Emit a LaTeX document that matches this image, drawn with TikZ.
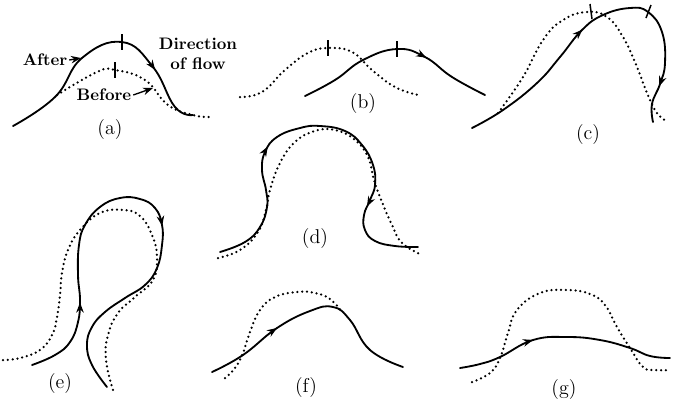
\documentclass[tikz,border=0pt]{standalone}
\usepackage{amsmath}
\usetikzlibrary{arrows.meta,decorations.markings}

\begin{document}
\begin{tikzpicture}[x=0.6pt,y=-0.6pt,
  after/.style={line width=1.1pt,line cap=round},
  before/.style={line width=1.5pt,line cap=round,dash pattern=on 0pt off 2.9pt},
  peakmark/.style={line width=0.9pt},
  flowarrow/.style={postaction={decorate,decoration={markings,
     mark=at position #1 with {\arrow{Stealth[length=6pt,width=4.5pt]}}}}},
  lab/.style={font=\bfseries,inner sep=1pt},
  panel/.style={font=\large},
  pointer/.style={line width=0.8pt,-{Stealth[length=6pt,width=4.5pt]}}]
\useasboundingbox (0,0) rectangle (676,400);
% (a)
\draw[after,flowarrow=0.75] plot[smooth,tension=0.75] coordinates
  {(13,126) (55,97) (82,58) (122,42) (153,67) (175,107) (193,115)};
\draw[before] plot[smooth,tension=0.75] coordinates
  {(57,95) (97,72) (115,70) (145,80) (168,105) (193,115) (210,117)};
\draw[peakmark] (122,34) -- (122,50);
\draw[peakmark] (115,62) -- (115,78);
\coordinate (aftertip)  at (81,58);
\coordinate (beforetip) at (153,88);
\node[lab] (afterlab)  at (45,60) {After};
\node[lab] (beforelab) at (104,95) {Before};
\node[lab,align=center] (flowlab) at (198,54) {Direction\\of flow};
\draw[pointer] (afterlab.east) -- (aftertip);
\draw[pointer] (beforelab.east) -- (beforetip);
\node[panel] (la) at (110,130) {(a)};
% (b)
\draw[after,flowarrow=0.66] plot[smooth,tension=0.75] coordinates
  {(305,96) (335,80) (363,60) (397,49) (425,57) (452,77) (485,95)};
\draw[before] plot[smooth,tension=0.75] coordinates
  {(240,97) (262,92) (285,70) (308,53) (328,48) (352,52) (372,70) (395,87) (418,95)};
\draw[peakmark] (328,40) -- (328,56);
\draw[peakmark] (397,41) -- (397,57);
\node[panel] (lb) at (363,104) {(b)};
% (c)
\draw[after,flowarrow=0.44,flowarrow=0.89] plot[smooth,tension=0.75] coordinates
  {(472,128) (503,110) (537,83) (560,57) (582,30) (603,15) (630,8) (648,12) (662,32) (665,63) (660,84) (652,104) (653,122)};
\draw[before] plot[smooth,tension=0.75] coordinates
  {(498,113) (523,77) (543,40) (563,20) (587,12) (607,17) (623,37) (637,67) (647,93) (657,113) (668,122)};
\draw[peakmark] (590,4) -- (592,19);
\draw[peakmark] (651,5) -- (646,18);
\node[panel] (lc) at (588,135) {(c)};
% (d)
\draw[after,flowarrow=0.34,flowarrow=0.785] plot[smooth,tension=0.75] coordinates
  {(220,252) (245,242) (260,227) (267,207) (266,190) (262,170) (265,152) (277,137) (300,128) (320,126) (345,131) (362,145) (373,165) (375,185) (370,200) (364,215) (365,230) (375,241) (395,246) (418,247)};
\draw[before] plot[smooth,tension=0.75] coordinates
  {(218,258) (240,250) (258,232) (266,210) (270,190) (280,163) (295,142) (315,131) (335,130) (355,140) (368,157) (374,180) (382,202) (392,225) (402,243) (422,255)};
\node[panel] (ld) at (315,239) {(d)};
% (e)
\draw[after,flowarrow=0.185,flowarrow=0.575] plot[smooth,tension=0.75] coordinates
  {(32,365) (55,355) (70,342) (78,322) (80,300) (78,275) (79,245) (85,225) (100,207) (120,198) (140,199) (155,208) (162,225) (162,245) (157,268) (145,285) (125,298) (105,312) (92,327) (87,345) (92,365) (107,387)};
\draw[before] plot[smooth,tension=0.75] coordinates
  {(3,360) (20,358) (40,350) (52,335) (57,317) (60,295) (62,273) (68,250) (80,230) (100,213) (123,210) (140,216) (152,235) (157,257) (153,280) (135,297) (118,313) (108,335) (106,360) (113,390)};
\node[panel] (le) at (60,383) {(e)};
% (f)
\draw[after,flowarrow=0.335] plot[smooth,tension=0.75] coordinates
  {(212,372) (243,355) (277,328) (310,311) (333,307) (350,320) (370,350) (403,367)};
\draw[before] plot[smooth,tension=0.75] coordinates
  {(225,378) (235,368) (243,353) (250,332) (260,310) (275,297) (297,292) (315,293) (330,299) (342,312)};
\node[panel] (lf) at (306,388) {(f)};
% (g)
\draw[after,flowarrow=0.36] plot[smooth,tension=0.75] coordinates
  {(460,368) (480,364) (500,357) (533,340) (567,337) (600,340) (630,348) (650,356) (670,358)};
\draw[before] plot[smooth,tension=0.75] coordinates
  {(472,382) (490,373) (500,358) (508,333) (517,310) (540,293) (567,290) (590,294) (605,305) (617,327) (630,348) (643,367) (655,370) (670,370)};
\node[panel] (lg) at (564,389) {(g)};
\end{tikzpicture}
\end{document}
